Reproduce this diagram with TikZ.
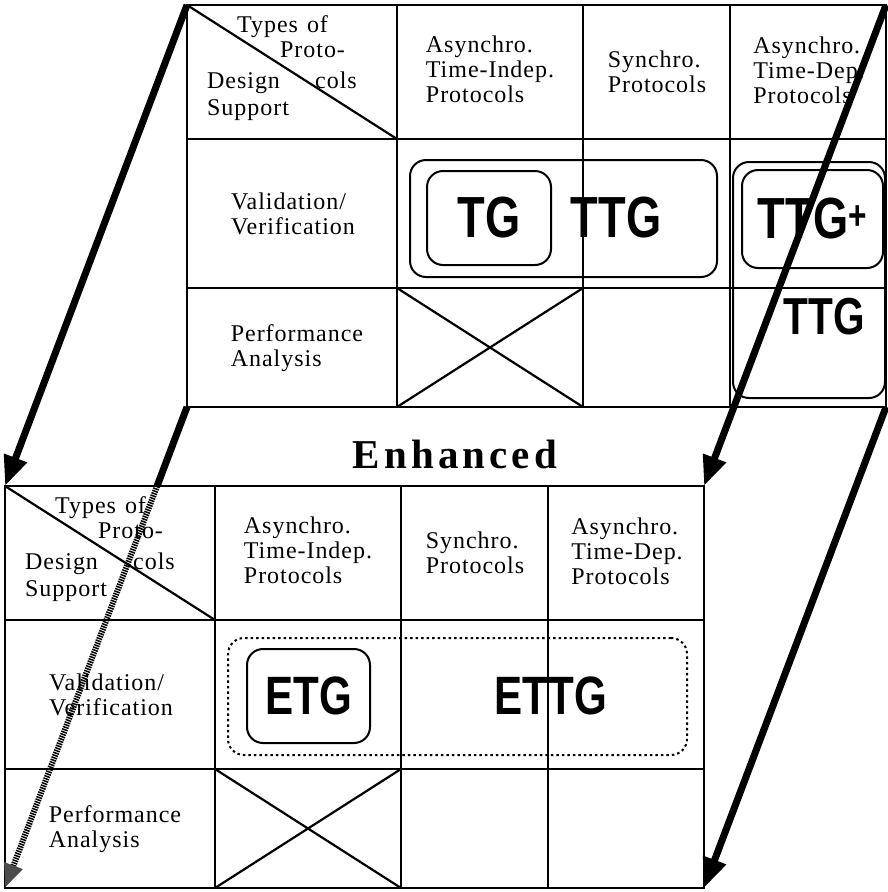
\documentclass[tikz,border=0pt]{standalone}
\usepackage{fontspec}
\setmainfont{Liberation Serif}
\newfontfamily\cellfont[LetterSpace=4]{Liberation Serif}
\newfontfamily\headfont[LetterSpace=10]{Liberation Serif}
\newfontfamily\gfont[FakeStretch=0.78]{Liberation Sans}
\usetikzlibrary{arrows.meta,calc}
\newcommand{\biglab}{\gfont\bfseries\fontsize{58}{58}\selectfont}
\newcommand{\midlab}{\gfont\bfseries\fontsize{54}{54}\selectfont}
\newcommand{\lowlab}{\gfont\bfseries\fontsize{52}{52}\selectfont}

% one design support table, drawn in its own scope
\newcommand{\designtable}{%
  \coordinate (nw) at (0,0);
  \coordinate (ne) at (699,0);
  \coordinate (sw) at (0,402);
  \coordinate (se) at (699,402);
  \draw[rule] (nw) rectangle (se);
  \draw[rule] (210,0) -- (210,402) (396,0) -- (396,402) (543,0) -- (543,402);
  \draw[rule] (0,134) -- (699,134) (0,283) -- (699,283);
  \draw[rule] (nw) -- (210,134);
  \draw[rule] (210,283) -- (396,402) (396,283) -- (210,402);
  \node[word] (types) at (50,27) {Types\hspace{9pt}of};
  \node[word] (proto) at (93,52) {Proto-};
  \node[word] (cols) at (128,83) {cols};
  \node[word] (design) at (20,83) {Design};
  \node[word] (support) at (20,110) {Support};
  \node[cell] (async) at (303,64) {Asynchro.\\Time-Indep.\\Protocols};
  \node[cell] (sync) at (470,67) {Synchro.\\Protocols};
  \node[cell] (asyncdep) at (622,65) {Asynchro.\\Time-Dep.\\Protocols};
  \node[cell] (valid) at (106,209) {Validation/\\Verification};
  \node[cell] (perf) at (110,343) {Performance\\Analysis};
}

\begin{document}
\begin{tikzpicture}[
  x=1pt, y=-1pt,
  rule/.style={line width=2.2pt},
  word/.style={font=\cellfont\fontsize{24}{25}\selectfont, anchor=base west, inner sep=0pt},
  cell/.style={font=\cellfont\fontsize{24}{25}\selectfont, align=left, inner sep=0pt},
  rbox/.style={draw, line width=2pt, rounded corners=16pt, inner sep=0pt},
  dbox/.style={draw, line width=2pt, rounded corners=16pt, dash pattern=on 2.5pt off 3pt, inner sep=0pt},
  fat/.style={line width=7pt, -{Triangle[length=30pt,width=23pt]}},
  hidden/.style={line width=6pt, dash pattern=on 1.5pt off 1pt, -{Triangle[length=24pt,width=18pt,color=black!70]}}
]
\useasboundingbox (0,0) rectangle (888,892);

\begin{scope}[shift={(187,5)}, name prefix=t-]
  \designtable
\end{scope}
\begin{scope}[shift={(5,486)}, name prefix=b-]
  \designtable
\end{scope}

% original graphs
\node[rbox, minimum width=307pt, minimum height=117pt] (ttgarea) at (563.5,218.5) {};
\node[rbox, minimum width=124pt, minimum height=94pt, font=\biglab] (tg) at (489,218) {TG};
\node[font=\biglab] (ttg) at (616,218) {TTG};
\node[rbox, minimum width=152pt, minimum height=236pt] (plusarea) at (809,280) {};
\node[rbox, minimum width=141pt, minimum height=98pt, font=\biglab] (ttgplus) at (812.5,219) {TTG\textsuperscript{+}};
\node[font=\lowlab] (perfttg) at (824,317) {TTG};

\node[font=\headfont\bfseries\fontsize{41}{41}\selectfont] (enh) at (455,454) {Enhanced};

% enhanced graphs
\node[dbox, minimum width=459pt, minimum height=117pt] (ettgarea) at (457.5,696.5) {};
\node[rbox, minimum width=123pt, minimum height=94pt, font=\midlab] (etg) at (308.5,696) {ETG};
\node[font=\midlab] (ettg) at (551,696) {ETTG};

% projection arrows
\coordinate (cut) at ($(t-sw)!0.164!(b-sw)$);
\draw[fat] (t-nw) -- (b-nw);
\draw[fat] (t-ne) -- (b-ne);
\draw[fat] (t-se) -- (b-se);
\draw[line width=7pt] (t-sw) -- (cut);
\draw[hidden] (cut) -- (b-sw);
\end{tikzpicture}
\end{document}
